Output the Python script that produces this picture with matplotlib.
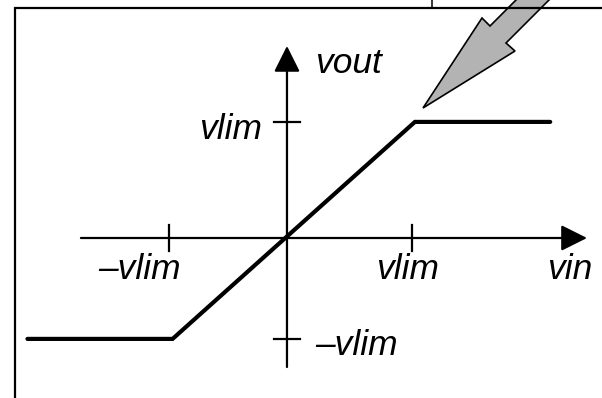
import matplotlib.pyplot as plt
import numpy as np

# saturation characteristic (x unit ~123px, y unit ~108.5px)
vin_pts = [-2.11, -0.93, 1.04, 2.14]
vout_pts = [-0.93, -0.93, 1.07, 1.07]
xtick_vals = [-0.96, 1.02]
xtick_labels = ['\u2013vlim', 'vlim']
ytick_vals = [1.07, -0.93]
ytick_labels = ['vlim', '\u2013vlim']

fig = plt.figure(figsize=(6.02, 3.98), dpi=100)
ax = fig.add_axes([0, 0, 1, 1])
ax.set_xlim(-2.333, 2.561)
ax.set_ylim(-1.4747, 2.1935)
ax.axis('off')

# overlay in pixel coords for the frame and callout arrow
ov = fig.add_axes([0, 0, 1, 1], zorder=3)
ov.set_xlim(0, 602)
ov.set_ylim(398, 0)
ov.axis('off')
ov.patch.set_alpha(0)
ov.plot([15, 15, 605], [400, 7.5, 7.5], color='black', lw=1.6, solid_joinstyle='miter')
ov.plot([432, 432], [-2, 7.5], color='black', lw=1.1)
arr = np.array([(423, 108), (482, 18), (490, 26), (526, -10), (559, -10), (506, 43), (515, 51)])
ov.fill(arr[:, 0], arr[:, 1], facecolor='#b3b3b3', edgecolor='black', lw=1.2, joinstyle='miter', clip_on=True)

# axes with arrow heads
axkw = dict(arrowstyle='-|>,head_length=0.8,head_width=0.4', color='black', lw=1.6,
            mutation_scale=20, shrinkA=0, shrinkB=0)
ax.annotate('', xy=(2.439, 0), xytext=(-1.675, 0), arrowprops=axkw)
ax.annotate('', xy=(0, 1.770), xytext=(0, -1.189), arrowprops=axkw)

for v in xtick_vals:
    ax.plot([v, v], [-0.12, 0.12], color='black', lw=1.6)
for v in ytick_vals:
    ax.plot([-0.106, 0.106], [v, v], color='black', lw=1.6)

ax.plot(vin_pts, vout_pts, color='black', lw=3, solid_capstyle='round', solid_joinstyle='miter', zorder=4)

tkw = dict(fontsize=25.5, family='Liberation Sans', style='italic', va='baseline')
ax.text(-1.199, -0.378, xtick_labels[0], ha='center', **tkw)
ax.text(0.984, -0.378, xtick_labels[1], ha='center', **tkw)
ax.text(2.301, -0.378, 'vin', ha='center', **tkw)
ax.text(-0.203, 0.912, ytick_labels[0], ha='right', **tkw)
ax.text(0.228, -1.078, ytick_labels[1], ha='left', **tkw)
ax.text(0.228, 1.521, 'vout', ha='left', **tkw)

plt.savefig('out.png', dpi=100)
